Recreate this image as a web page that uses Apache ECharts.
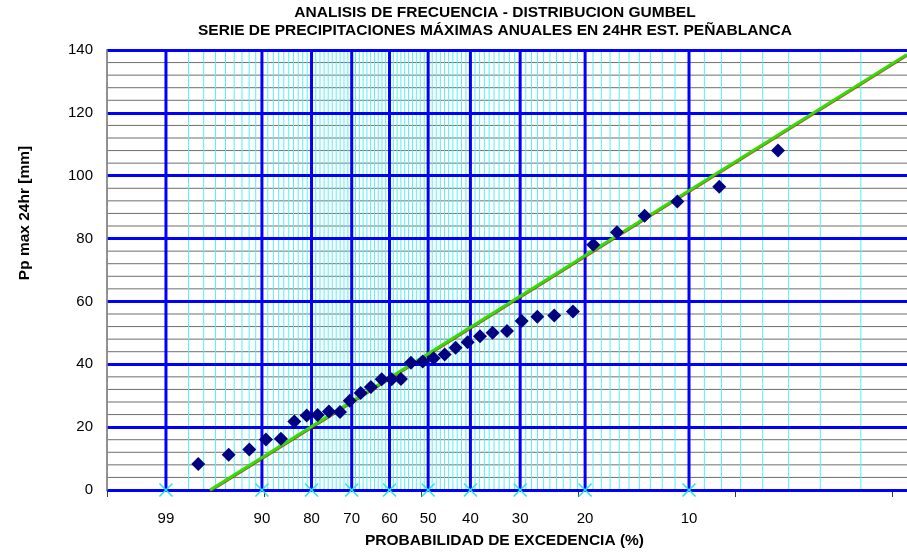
<!DOCTYPE html>
<html>
<head>
<meta charset="utf-8">
<script src="https://cdn.jsdelivr.net/npm/echarts@6/dist/echarts.min.js"></script>
<style>
html,body{margin:0;padding:0;background:#fff;}
#chart{width:907px;height:553px;}
</style>
</head>
<body>
<div id="chart"></div>
<script>
// ---- data ----
// Gumbel reduced variate (x position) of each observed annual maximum
var obsGumbelY = [-1.294, -1.074, -0.925, -0.805, -0.697, -0.600, -0.511, -0.432, -0.350, -0.270,
                  -0.200, -0.121, -0.047, 0.031, 0.103, 0.170, 0.242, 0.327, 0.406, 0.486,
                  0.565, 0.652, 0.741, 0.832, 0.936, 1.042, 1.155, 1.277, 1.412, 1.559,
                  1.730, 1.930, 2.166, 2.469, 2.893];
// precipitation, mm
var obsPrecip = [8.3, 11.2, 12.9, 16.1, 16.3, 21.8, 23.7, 23.9, 25.0, 24.8,
                 28.4, 30.9, 32.8, 35.2, 35.2, 35.3, 40.5, 40.9, 41.9, 43.1,
                 45.3, 47.0, 48.9, 50.0, 50.6, 53.8, 55.1, 55.5, 56.8, 78.0,
                 82.0, 87.3, 91.8, 96.5, 108.0];
// fitted Gumbel line end points (reduced variate, mm)
var fitGumbelY = [-1.209, 3.824];
var fitPrecip = [0, 138.6];
// exceedance probabilities (%) with labels / major grid lines
var majorProbs = [99, 90, 80, 70, 60, 50, 40, 30, 20, 10];
// exceedance probabilities (%) with minor grid lines
var minorProbs = [98, 97, 96, 95, 94, 93, 92, 91,
                  89, 88, 87, 86, 85, 84, 83, 82, 81,
                  79, 78, 77, 76, 75, 74, 73, 72, 71,
                  69, 68, 67, 66, 65, 64, 63, 62, 61,
                  59, 58, 57, 56, 55, 54, 53, 52, 51,
                  49, 48, 47, 46, 45, 44, 43, 42, 41,
                  39, 38, 37, 36, 35, 34, 33, 32, 31,
                  29, 28, 27, 26, 25, 24, 23, 22, 21,
                  19, 18, 17, 16, 15, 14, 13, 12, 11,
                  9, 8, 7, 6, 5, 4, 3];
// minor horizontal grid values (mm)
var yMinorValues = [4, 8, 12, 16, 24, 28, 32, 36, 44, 48, 52, 56, 64, 68, 72, 76,
                    84, 88, 92, 96, 104, 108, 112, 116, 124, 128, 132, 136];
// tick marks under the horizontal axis (reduced variate positions)
var xTickPositions = [-1.953, -0.819, 0.314, 1.448, 2.581, 3.715];
var xMin = -1.953, xMax = 3.832;
var yMin = 0, yMax = 140, yMajorStep = 20;
var titleText = 'ANALISIS DE FRECUENCIA - DISTRIBUCION GUMBEL\nSERIE DE PRECIPITACIONES MÁXIMAS ANUALES EN 24HR EST. PEÑABLANCA';
var xName = 'PROBABILIDAD DE EXCEDENCIA (%)';
var yName = 'Pp max 24hr [mm]';

// probability scale: exceedance % -> Gumbel reduced variate
function redVar(p) { return -Math.log(-Math.log(1 - p / 100)); }

var FONT = '"Liberation Sans", Arial, sans-serif';
var chart = echarts.init(document.getElementById('chart'), null, {renderer: 'canvas'});

var obsData = obsGumbelY.map(function (x, i) { return [x, obsPrecip[i]]; });
var fitData = fitGumbelY.map(function (x, i) { return [x, fitPrecip[i]]; });
var probMarks = majorProbs.map(function (p) { return [redVar(p), 0, p]; });

function vLines(color, width) {
  return function (params, api) {
    var x = api.value(0);
    var a = api.coord([x, yMin]);
    var b = api.coord([x, yMax]);
    return {type: 'line', silent: true,
            shape: {x1: a[0], y1: a[1], x2: b[0], y2: b[1]},
            style: {stroke: color, lineWidth: width}};
  };
}
function hLines(color, width) {
  return function (params, api) {
    var y = api.value(1);
    var a = api.coord([xMin, y]);
    var b = api.coord([xMax, y]);
    return {type: 'line', silent: true,
            shape: {x1: a[0], y1: a[1], x2: b[0], y2: b[1]},
            style: {stroke: color, lineWidth: width}};
  };
}

var option = {
  animation: false,
  backgroundColor: '#ffffff',
  title: {
    text: titleText,
    left: 495,
    top: 4,
    padding: 0,
    textAlign: 'center',
    textStyle: {fontFamily: FONT, fontSize: 15.5, fontWeight: 'bold', color: '#000', lineHeight: 18}
  },
  graphic: [{
    type: 'text',
    x: 24.5, y: 213,
    rotation: Math.PI / 2,
    style: {text: yName, font: 'bold 15.5px ' + FONT, fill: '#000', align: 'center', verticalAlign: 'middle'}
  }],
  grid: {
    left: 107, right: -1, top: 50, bottom: 63,
    show: true, borderColor: '#8a8a8a', borderWidth: 1.5,
    containLabel: false, outerBoundsMode: 'none'
  },
  xAxis: {
    type: 'value', min: xMin, max: xMax,
    position: 'bottom',
    name: xName, nameLocation: 'middle', nameGap: 43,
    nameTextStyle: {fontFamily: FONT, fontSize: 15.5, fontWeight: 'bold', color: '#000', padding: [0, 6, 0, 0]},
    axisLine: {show: true, onZero: false, lineStyle: {color: '#3a3a3a', width: 1.5}},
    axisTick: {show: true, inside: false, length: 7, customValues: xTickPositions, lineStyle: {color: '#3a3a3a', width: 1}},
    axisLabel: {show: false},
    splitLine: {show: false},
    minorTick: {show: false},
    minorSplitLine: {show: false}
  },
  yAxis: {
    type: 'value', min: yMin, max: yMax, interval: yMajorStep,
    position: 'left',
    z: 3,
    axisLine: {show: true, onZero: false, lineStyle: {color: '#8a8a8a', width: 1.5}},
    axisTick: {show: false},
    axisLabel: {fontFamily: FONT, fontSize: 15, color: '#000', margin: 14},
    splitLine: {show: true, lineStyle: {color: '#0000ff', width: 3}},
    minorTick: {show: false},
    minorSplitLine: {show: false}
  },
  series: [{
    type: 'custom',
    name: 'grid-h-minor',
    silent: true,
    z: 1,
    data: yMinorValues.map(function (v) { return [xMin, v]; }),
    renderItem: hLines('#6e6e6e', 1)
  }, {
    type: 'custom',
    name: 'grid-v-minor',
    silent: true,
    z: 2,
    data: minorProbs.map(function (p) { return [redVar(p), yMin]; }),
    renderItem: vLines('#55f0f5', 1)
  }, {
    type: 'custom',
    name: 'grid-v-major',
    silent: true,
    z: 4,
    data: majorProbs.map(function (p) { return [redVar(p), yMin]; }),
    renderItem: vLines('#0000ff', 3)
  }, {
    type: 'line',
    name: 'Gumbel',
    data: fitData,
    showSymbol: false,
    z: 5,
    lineStyle: {color: '#33dd00', width: 3, shadowColor: 'rgba(150,40,0,0.8)', shadowOffsetY: 1, shadowBlur: 0}
  }, {
    type: 'scatter',
    name: 'prob',
    data: probMarks,
    z: 6,
    symbol: 'path://M0,0L10,10M10,0L0,10',
    symbolSize: 13,
    itemStyle: {color: 'rgba(0,0,0,0)', borderColor: '#22e6f0', borderWidth: 1.5, opacity: 1},
    label: {
      show: true, position: 'bottom', distance: 14,
      fontFamily: FONT, fontSize: 15, color: '#000',
      formatter: function (p) { return String(p.value[2]); }
    }
  }, {
    type: 'scatter',
    name: 'Observado',
    data: obsData,
    z: 7,
    symbol: 'diamond',
    symbolSize: 14,
    itemStyle: {color: '#000080', opacity: 1}
  }]
};
chart.setOption(option);
</script>
</body>
</html>
